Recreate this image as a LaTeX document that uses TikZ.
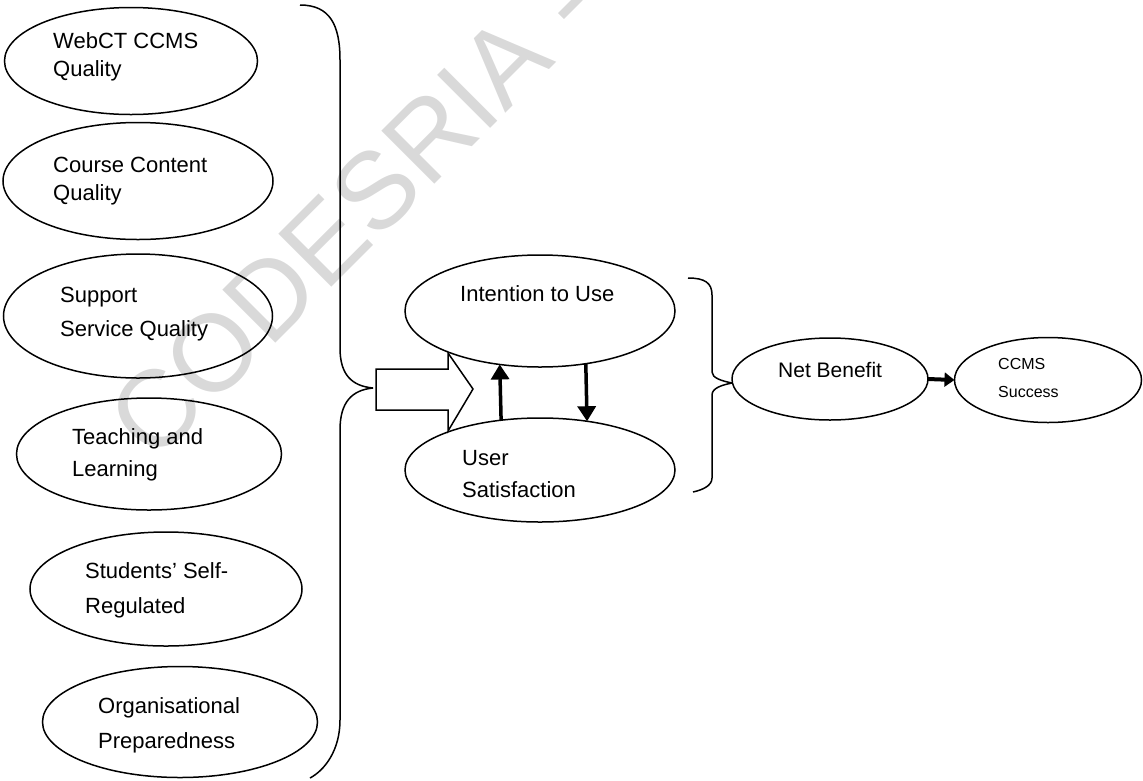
\documentclass[tikz,border=0pt]{standalone}
\usepackage{fontspec}
\setmainfont{Liberation Sans}
\usetikzlibrary{shapes.geometric,arrows.meta}

\begin{document}
\begin{tikzpicture}[x=1pt,y=-1pt,
  oval/.style={draw, ellipse, line width=1.5pt, inner sep=0pt, outer sep=0pt},
  lbl/.style={inner sep=0pt, anchor=north west, align=left,
              font=\fontsize{22}{#1}\selectfont},
  lbl/.default=30,
  bracket/.style={line width=1.5pt, line join=round},
  fat/.style={line width=3.5pt, -{Triangle[length=15pt,width=18pt]}},
  watermark/.style={rotate=45, anchor=base west, inner sep=0pt,
                    text=gray!30, font=\fontsize{109}{109}\selectfont}]
\useasboundingbox (0,0) rectangle (1143,780);

% faint diagonal stamp behind the drawing
\begin{scope}
  \clip (0,0) rectangle (1143,780);
  \node[watermark] (stamp) at (154,465) {CODESRIA - LIBRARY};
\end{scope}

% success factors
\node[oval, minimum width=253pt, minimum height=107pt] (f1) at (131,61) {};
\node[oval, minimum width=270pt, minimum height=117pt] (f2) at (138,181) {};
\node[oval, minimum width=269pt, minimum height=124pt] (f3) at (138,316) {};
\node[oval, minimum width=265pt, minimum height=112pt] (f4) at (149,454) {};
\node[oval, minimum width=272pt, minimum height=114pt] (f5) at (166,589) {};
\node[oval, minimum width=275pt, minimum height=111pt] (f6) at (180,722) {};

\node[lbl=28] (t1) at (53,32)  {WebCT CCMS\\Quality};
\node[lbl=28] (t2) at (53,157) {Course Content\\Quality};
\node[lbl=34] (t3) at (60,287) {Support\\Service Quality};
\node[lbl=32] (t4) at (72,428) {Teaching and\\Learning};
\node[lbl=35] (t5) at (85,562) {Students' Self-\\Regulated};
\node[lbl=35] (t6) at (98,697) {Organisational\\Preparedness};

% grouping brace on the left
\coordinate (lt) at (373,388);
\draw[bracket] (300,5) .. controls (330,5) and (340,25) .. (340,60)
  -- (340,348) .. controls (340,375) and (352,386) .. (lt);
\draw[bracket] (lt) .. controls (352,390) and (340,402) .. (340,430)
  -- (340,720) .. controls (340,750) and (325,770) .. (310,778);

% block arrow from the brace
\draw[line width=1.5pt, line join=miter]
  (lt) ++(3,-19) -- ++(72,0) -- ++(0,-16) -- ++(25,36) -- ++(-25,42)
  -- ++(0,-21) -- ++(-72,0) -- cycle;

% use and satisfaction
\node[oval, minimum width=270pt, minimum height=112pt] (itu) at (540,311) {};
\node[oval, minimum width=270pt, minimum height=104pt] (us)  at (540,470) {};
\node[lbl] (t7) at (460,285) {Intention to Use};
\node[lbl=32] (t8) at (462,450) {User\\Satisfaction};

\draw[fat] (us.128.8) -- (itu.233.2);
\draw[fat] (itu.311.8) -- (us.46);

% grouping brace on the right
\coordinate (rt) at (732,383);
\draw[bracket] (688,278) .. controls (705,278) and (712,283) .. (712,295)
  -- (712,372) .. controls (712,378) and (722,381) .. (rt);
\draw[bracket] (rt) .. controls (722,385) and (712,388) .. (712,395)
  -- (712,478) .. controls (712,486) and (702,490) .. (693,492);

% outcomes
\node[oval, minimum width=196pt, minimum height=82pt] (nb) at (830,379) {};
\node[oval, minimum width=187pt, minimum height=85pt] (cs) at (1048,380) {};
\node[lbl, font=\fontsize{21}{30}\selectfont] (t9) at (778,362) {Net Benefit};
\node[lbl, font=\fontsize{16}{28}\selectfont] (t10) at (998,358) {CCMS\\Success};

\draw[line width=4pt, -{Triangle[length=10pt,width=14pt]}] (nb.east) -- (cs.west);
\end{tikzpicture}
\end{document}
